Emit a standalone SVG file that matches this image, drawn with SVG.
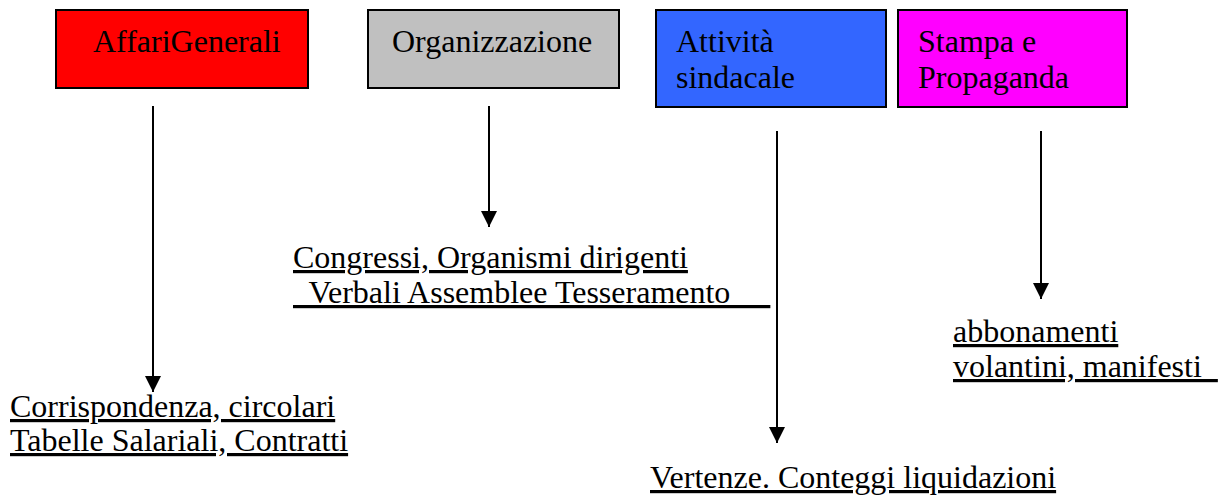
<svg xmlns="http://www.w3.org/2000/svg" width="1221" height="495" viewBox="0 0 1221 495">
<defs>
<marker id="ah" viewBox="0 0 16 16" refX="16" refY="8" markerWidth="16" markerHeight="16" markerUnits="userSpaceOnUse" orient="auto">
<path d="M0,0 L16,8 L0,16 Z" fill="#000"/>
</marker>
<style>
text{font-family:"Liberation Serif","Times New Roman",serif;font-size:32px;fill:#000}
.u{text-decoration:underline}
.box{stroke:#000;stroke-width:2}
.conn line{stroke:#000;stroke-width:2}
</style>
</defs>
<rect width="1221" height="495" fill="#fff"/>
<g id="affari">
<rect class="box" x="56" y="10" width="252" height="78" fill="#FF0000"/>
<text x="93" y="52">AffariGenerali</text>
</g>
<g id="organizzazione">
<rect class="box" x="368" y="10" width="251" height="78" fill="#C0C0C0"/>
<text x="392" y="52">Organizzazione</text>
</g>
<g id="attivita">
<rect class="box" x="656" y="10" width="230" height="97" fill="#3366FF"/>
<text x="676" y="52">Attività</text>
<text x="676" y="88">sindacale</text>
</g>
<g id="stampa">
<rect class="box" x="898" y="10" width="229" height="97" fill="#FF00FF"/>
<text x="918" y="52">Stampa e</text>
<text x="918" y="88">Propaganda</text>
</g>
<g class="conn" id="connectors">
<line x1="153" y1="106" x2="153" y2="392" marker-end="url(#ah)"/>
<line x1="489" y1="106" x2="489" y2="227" marker-end="url(#ah)"/>
<line x1="777" y1="131" x2="777" y2="443" marker-end="url(#ah)"/>
<line x1="1041" y1="131" x2="1041" y2="299" marker-end="url(#ah)"/>
</g>
<g id="label-affari">
<text class="u" x="10" y="417">Corrispondenza, circolari</text>
<text class="u" x="10" y="451">Tabelle Salariali, Contratti</text>
</g>
<g id="label-organizzazione">
<text class="u" x="293" y="268">Congressi, Organismi dirigenti</text>
<text class="u" x="293" y="303" xml:space="preserve">  Verbali Assemblee Tesseramento     </text>
</g>
<g id="label-stampa">
<text class="u" x="953" y="342">abbonamenti</text>
<text class="u" x="953" y="377" xml:space="preserve">volantini, manifesti  </text>
</g>
<g id="label-attivita">
<text class="u" x="650" y="488">Vertenze. Conteggi liquidazioni</text>
</g>
</svg>
